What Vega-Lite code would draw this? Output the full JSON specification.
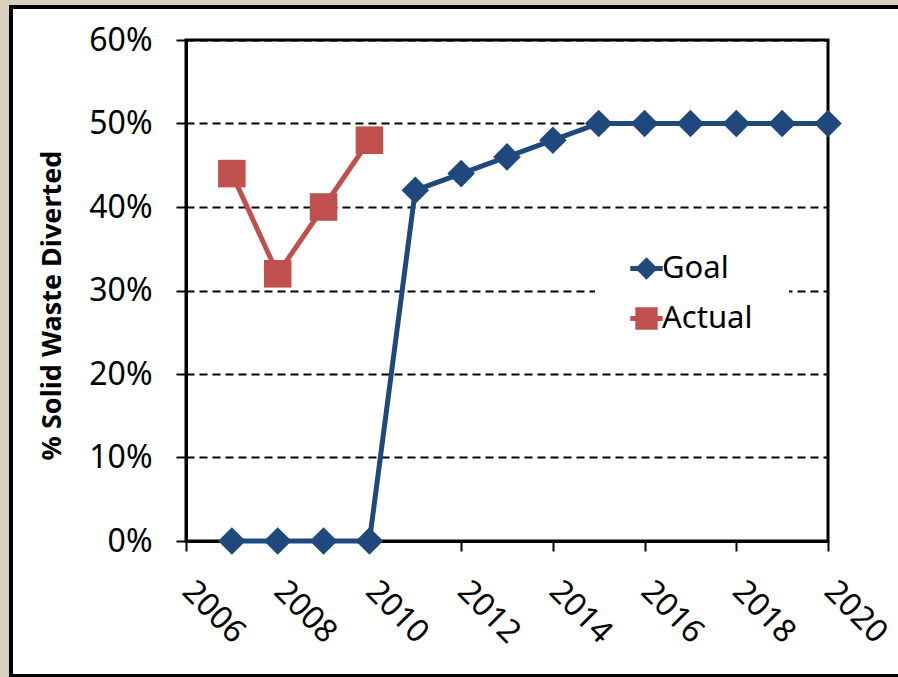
{
  "$schema": "https://vega.github.io/schema/vega-lite/v6.json",
  "width": 642,
  "height": 501,
  "autosize": {"type": "none"},
  "padding": {"left": 186, "top": 40, "right": 70, "bottom": 136},
  "background": "white",
  "config": {
    "view": {"stroke": "black", "strokeWidth": 3, "fill": "white"},
    "font": "Noto Sans"
  },
  "datasets": {
    "series": [
      {"year": 2007, "series": "Goal", "pct": 0},
      {"year": 2008, "series": "Goal", "pct": 0},
      {"year": 2009, "series": "Goal", "pct": 0},
      {"year": 2010, "series": "Goal", "pct": 0},
      {"year": 2011, "series": "Goal", "pct": 0.42},
      {"year": 2012, "series": "Goal", "pct": 0.44},
      {"year": 2013, "series": "Goal", "pct": 0.46},
      {"year": 2014, "series": "Goal", "pct": 0.48},
      {"year": 2015, "series": "Goal", "pct": 0.5},
      {"year": 2016, "series": "Goal", "pct": 0.5},
      {"year": 2017, "series": "Goal", "pct": 0.5},
      {"year": 2018, "series": "Goal", "pct": 0.5},
      {"year": 2019, "series": "Goal", "pct": 0.5},
      {"year": 2020, "series": "Goal", "pct": 0.5},
      {"year": 2007, "series": "Actual", "pct": 0.44},
      {"year": 2008, "series": "Actual", "pct": 0.32},
      {"year": 2009, "series": "Actual", "pct": 0.4},
      {"year": 2010, "series": "Actual", "pct": 0.48}
    ]
  },
  "layer": [
    {
      "data": {"values": [{}]},
      "mark": {"type": "rect", "filled": false, "stroke": "#d6d0bc", "strokeWidth": 30},
      "encoding": {
        "x": {"datum": 2001.813, "type": "quantitative"},
        "x2": {"datum": 2022.006},
        "y": {"datum": 0.6599, "type": "quantitative"},
        "y2": {"datum": -0.182}
      }
    },
    {
      "data": {"values": [{}]},
      "mark": {"type": "rect", "filled": false, "stroke": "black", "strokeWidth": 4},
      "encoding": {
        "x": {"datum": 2002.184, "type": "quantitative"},
        "x2": {"datum": 2021.68},
        "y": {"datum": 0.6395, "type": "quantitative"},
        "y2": {"datum": -0.1617}
      }
    },
    {
      "data": {"name": "series"},
      "mark": {"type": "line", "strokeWidth": 5},
      "encoding": {
        "x": {
          "field": "year", "type": "quantitative",
          "scale": {"domain": [2006, 2020], "nice": false, "zero": false},
          "axis": {
            "title": null, "values": [2006, 2008, 2010, 2012, 2014, 2016, 2018, 2020],
            "format": "d", "grid": false, "labelAngle": 45, "labelAlign": "left",
            "labelBaseline": "top", "labelFontSize": 32, "labelPadding": 24,
            "labelOffset": 12,
            "labelFlush": false, "labelOverlap": false, "labelColor": "black",
            "tickSize": 10, "tickWidth": 2, "tickColor": "black",
            "domainWidth": 3, "domainColor": "black"
          }
        },
        "y": {
          "field": "pct", "type": "quantitative",
          "scale": {"domain": [0, 0.6], "nice": false},
          "axis": {
            "title": "% Solid Waste Diverted", "format": ".0%",
            "values": [0, 0.1, 0.2, 0.3, 0.4, 0.5, 0.6],
            "grid": true, "gridColor": "black", "gridDash": [8, 5], "gridWidth": 2,
            "domainColor": "black", "domainWidth": 3,
            "tickColor": "black", "tickWidth": 2, "tickSize": 10,
            "labelFontSize": 32, "labelPadding": 24, "labelColor": "black",
            "titleFontSize": 27, "titleFontWeight": "bold", "titleColor": "black",
            "titlePadding": 22, "titleY": 265
          }
        },
        "color": {
          "field": "series", "type": "nominal",
          "scale": {"domain": ["Goal", "Actual"], "range": ["#1F497D", "#C0504D"]},
          "legend": {
            "orient": "none", "legendX": 409, "legendY": 177, "title": null,
            "fillColor": "white", "padding": 36,
            "labelFont": "Noto Sans", "labelFontSize": 31, "labelColor": "black",
            "symbolSize": 500, "labelOffset": 0, "rowPadding": 18,
            "symbolStrokeWidth": 0, "symbolOpacity": 1,
            "encode": {
              "symbols": {
                "update": {
                  "shape": {"signal": "datum.value === 'Goal' ? 'M-1.45,-0.22L1.45,-0.22L1.45,0.22L-1.45,0.22ZM-1,0L0,-1L1,0L0,1Z' : 'M-1.45,-0.22L1.45,-0.22L1.45,0.22L-1.45,0.22ZM-1,-1L1,-1L1,1L-1,1Z'"},
                  "fill": {"scale": "color", "field": "value"},
                  "opacity": {"value": 1},
                  "strokeWidth": {"value": 0}
                }
              }
            }
          }
        }
      }
    },
    {
      "data": {"name": "series"},
      "mark": {"type": "point", "filled": true, "opacity": 1, "size": 760},
      "encoding": {
        "x": {"field": "year", "type": "quantitative"},
        "y": {"field": "pct", "type": "quantitative"},
        "color": {"field": "series", "type": "nominal"},
        "shape": {
          "condition": {"test": "datum.series === 'Goal'", "value": "diamond"},
          "value": "square"
        }
      }
    }
  ]
}
